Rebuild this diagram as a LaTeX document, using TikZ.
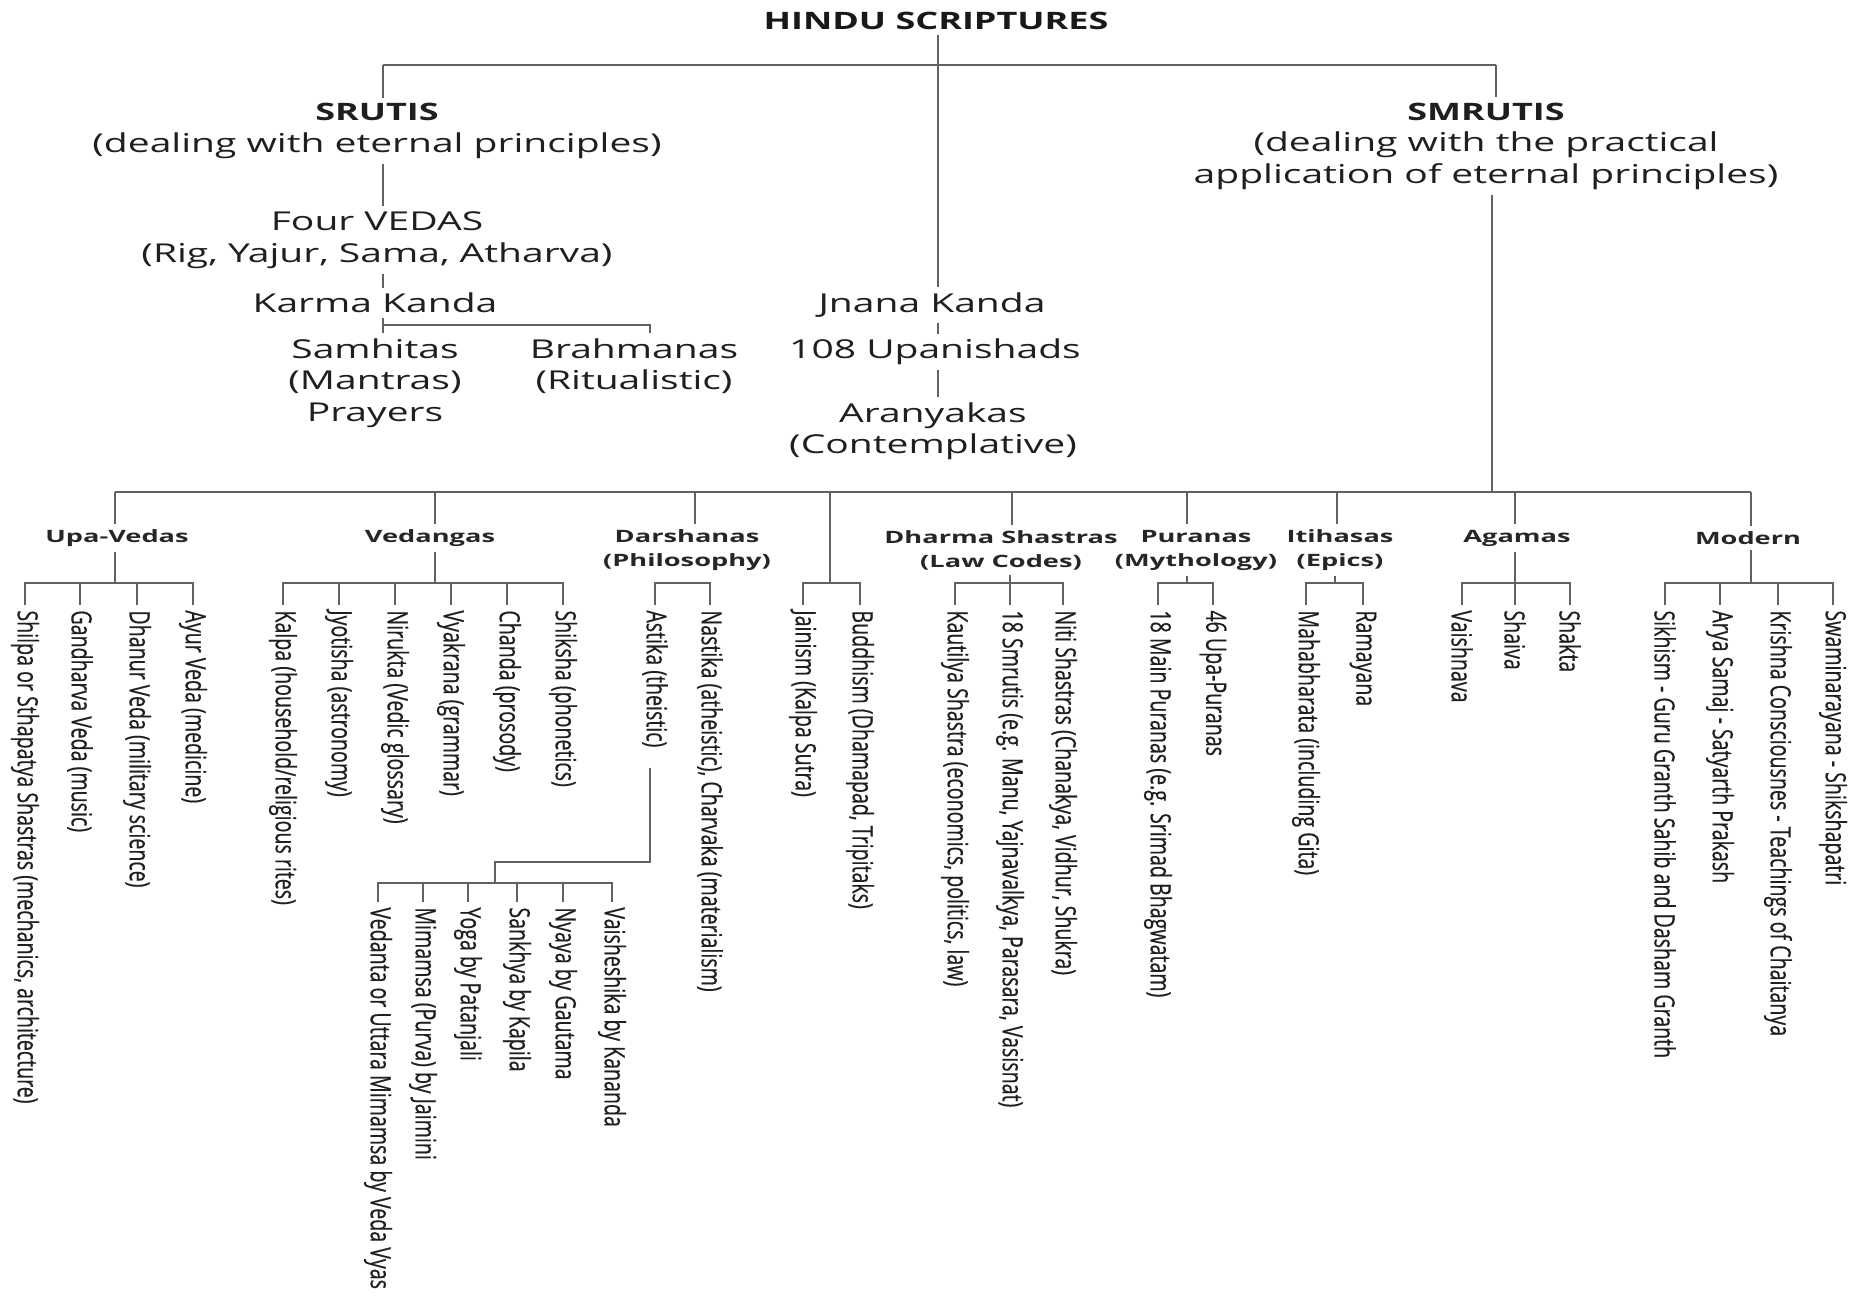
\documentclass[tikz,border=0pt]{standalone}
\usepackage{fontspec}
\setmainfont{Open Sans}
\newfontfamily\mainf[FakeStretch=1.5]{Open Sans}
\newfontfamily\levf[FakeStretch=1.6]{Open Sans}
\newfontfamily\leaff[FakeStretch=0.70,FakeBold=0.4]{Open Sans}
\begin{document}
\begin{tikzpicture}[x=0.5pt,y=-0.5pt,
  conn/.style={draw=black!62, line width=1pt},
  body/.style={font=\mainf\fontsize{13}{15.75}\selectfont, align=center, inner xsep=0pt, inner ysep=2.5pt, text=black!88},
  ttl/.style={font=\mainf\bfseries\fontsize{12}{15}\selectfont, inner xsep=0pt, inner ysep=2.5pt, text=black!90},
  lev/.style={font=\levf\bfseries\fontsize{8.5}{12}\selectfont, align=center, inner xsep=0pt, inner ysep=2.5pt, text=black!85},
  leaf/.style={font=\leaff\fontsize{14}{15}\selectfont, rotate=-90, anchor=west, inner xsep=2.5pt, inner ysep=0pt, text=black!88},
]
\path[use as bounding box, fill=white] (0,0) rectangle (1866,1310);

% ---------- top ----------
\node[ttl] (title) at (936,21) {HINDU SCRIPTURES};
\node[body] (srutis) at (377,131) {{\bfseries\fontsize{12}{15.75}\selectfont SRUTIS}\\(dealing with eternal principles)};
\node[body] (vedas) at (377,240) {Four VEDAS\\(Rig, Yajur, Sama, Atharva)};
\node[body] (karma) at (375,303) {Karma Kanda};
\node[body] (samh) at (375,383) {Samhitas\\(Mantras)\\Prayers};
\node[body] (brah) at (634,366) {Brahmanas\\(Ritualistic)};
\node[body] (jnana) at (932,305) {Jnana Kanda};
\node[body] (upan) at (935,352) {108 Upanishads};
\node[body] (aran) at (933,431) {Aranyakas\\(Contemplative)};
\node[body] (smrutis) at (1486,146) {{\bfseries\fontsize{12}{15.75}\selectfont SMRUTIS}\\(dealing with the practical\\application of eternal principles)};

\coordinate (tj) at (938,65);
\coordinate (sr) at (383,65);
\coordinate (sm) at (1496,65);
\draw[conn] (sr) -- (sm);
\draw[conn] (title.south -| tj) -- (jnana.north -| tj);
\draw[conn] (jnana.south -| tj) -- (upan.north -| tj);
\draw[conn] (upan.south -| tj) -- (aran.north -| tj);
\draw[conn] (sr) -- (sr |- srutis.north);
\draw[conn] (sm) -- (sm |- smrutis.north);
\draw[conn] (srutis.south -| sr) -- (vedas.north -| sr);
\draw[conn] (vedas.south -| sr) -- (karma.north -| sr);
\coordinate (kj) at (383,325);
\coordinate (kb) at (650,325);
\draw[conn] (karma.south -| kj) -- (kj) -- (kb) -- (kb |- brah.north);
\draw[conn] (kj) -- (kj |- samh.north);

% ---------- level 2 ----------
\coordinate (smd) at (1492,492);
\draw[conn] (smrutis.south -| smd) -- (smd);
\coordinate (L1) at (115,492);
\coordinate (L2) at (435,492);
\coordinate (L3) at (695,492);
\coordinate (L4) at (830,492);
\coordinate (L5) at (1012,492);
\coordinate (L6) at (1187,492);
\coordinate (L7) at (1337,492);
\coordinate (L8) at (1515,492);
\coordinate (L9) at (1751,492);
\draw[conn] (L1) -- (L9);

\node[lev] (upav) at (117,538) {Upa-Vedas};
\node[lev] (vedg) at (430,538) {Vedangas};
\node[lev] (dars) at (687,550) {Darshanas\\(Philosophy)};
\node[lev] (dhar) at (1001,550) {Dharma Shastras\\(Law Codes)};
\node[lev] (pura) at (1196,550) {Puranas\\(Mythology)};
\node[lev] (itih) at (1340,550) {Itihasas\\(Epics)};
\node[lev] (agam) at (1517,538) {Agamas};
\node[lev] (modn) at (1748,538) {Modern};

\draw[conn] (L1) -- (L1 |- upav.north);
\draw[conn] (L2) -- (L2 |- vedg.north);
\draw[conn] (L3) -- (L3 |- dars.north);
\draw[conn] (L5) -- (L5 |- dhar.north);
\draw[conn] (L6) -- (L6 |- pura.north);
\draw[conn] (L7) -- (L7 |- itih.north);
\draw[conn] (L8) -- (L8 |- agam.north);
\draw[conn] (L9) -- (L9 |- modn.north);

% ---------- Upa-Vedas ----------
\node[leaf] (uv1) at (25,605) {Shilpa or Sthapatya Shastras (mechanics, architecture)};
\node[leaf] (uv2) at (80,605) {Gandharva Veda (music)};
\node[leaf] (uv3) at (137,605) {Dhanur Veda (military science)};
\node[leaf] (uv4) at (193,605) {Ayur Veda (medicine)};
\coordinate (uvj) at (115,583);
\draw[conn] (upav.south -| uvj) -- (uvj);
\draw[conn] (uv1.west) -- (uv1.west |- uvj) -- (uv4.west |- uvj) -- (uv4.west);
\draw[conn] (uv2.west) -- (uv2.west |- uvj);
\draw[conn] (uv3.west) -- (uv3.west |- uvj);

% ---------- Vedangas ----------
\node[leaf] (vg1) at (283,605) {Kalpa (household/religious rites)};
\node[leaf] (vg2) at (339,605) {Jyotisha (astronomy)};
\node[leaf] (vg3) at (395,605) {Nirukta (Vedic glossary)};
\node[leaf] (vg4) at (451,605) {Vyakrana (grammar)};
\node[leaf] (vg5) at (507,605) {Chanda (prosody)};
\node[leaf] (vg6) at (563,605) {Shiksha (phonetics)};
\coordinate (vgj) at (435,583);
\draw[conn] (vedg.south -| vgj) -- (vgj);
\draw[conn] (vg1.west) -- (vg1.west |- vgj) -- (vg6.west |- vgj) -- (vg6.west);
\foreach \n in {vg2,vg3,vg4,vg5} \draw[conn] (\n.west) -- (\n.west |- vgj);

% ---------- Darshanas ----------
\node[leaf] (ast) at (655,605) {Astika (theistic)};
\node[leaf] (nas) at (710,605) {Nastika (atheistic), Charvaka (materialism)};
\draw[conn] (ast.west) -- ++(0,-22) -| (nas.west);
\node[leaf] (ds1) at (378,902) {Vedanta or Uttara Mimamsa by Veda Vyas};
\node[leaf] (ds2) at (423,902) {Mimamsa (Purva) by Jaimini};
\node[leaf] (ds3) at (468,902) {Yoga by Patanjali};
\node[leaf] (ds4) at (517,902) {Sankhya by Kapila};
\node[leaf] (ds5) at (563,902) {Nyaya by Gautama};
\node[leaf] (ds6) at (612,902) {Vaisheshika by Kananda};
\coordinate (dsj) at (495,883);
\draw[conn] (ast.east) ++(-5,15) -- (650,862) -| (dsj);
\draw[conn] (ds1.west) -- (ds1.west |- dsj) -- (ds6.west |- dsj) -- (ds6.west);
\foreach \n in {ds2,ds3,ds4,ds5} \draw[conn] (\n.west) -- (\n.west |- dsj);

% ---------- Jainism / Buddhism ----------
\node[leaf] (jn) at (803,605) {Jainism (Kalpa Sutra)};
\node[leaf] (bd) at (860,605) {Buddhism (Dhamapad, Tripitaks)};
\coordinate (jbj) at (830,583);
\draw[conn] (L4) -- (jbj);
\draw[conn] (jn.west) -- (jn.west |- jbj) -- (bd.west |- jbj) -- (bd.west);

% ---------- Dharma Shastras ----------
\node[leaf] (dh1) at (955,605) {Kautilya Shastra (economics, politics, law)};
\node[leaf] (dh2) at (1010,605) {18 Smrutis (e.g. Manu, Yajnavalkya, Parasara, Vasisnat)};
\node[leaf] (dh3) at (1063,605) {Niti Shastras (Chanakya, Vidhur, Shukra)};
\coordinate (dhj) at (1010,583);
\draw[conn] (dhar.south -| dhj) -- (dhj);
\draw[conn] (dh1.west) -- (dh1.west |- dhj) -- (dh3.west |- dhj) -- (dh3.west);
\draw[conn] (dh2.west) -- (dh2.west |- dhj);

% ---------- Puranas ----------
\node[leaf] (pu1) at (1158,605) {18 Main Puranas (e.g. Srimad Bhagwatam)};
\node[leaf] (pu2) at (1213,605) {46 Upa-Puranas};
\coordinate (puj) at (1187,583);
\draw[conn] (pura.south -| puj) -- (puj);
\draw[conn] (pu1.west) -- (pu1.west |- puj) -- (pu2.west |- puj) -- (pu2.west);

% ---------- Itihasas ----------
\node[leaf] (it1) at (1306,605) {Mahabharata (including Gita)};
\node[leaf] (it2) at (1363,605) {Ramayana};
\coordinate (itj) at (1335,583);
\draw[conn] (itih.south -| itj) -- (itj);
\draw[conn] (it1.west) -- (it1.west |- itj) -- (it2.west |- itj) -- (it2.west);

% ---------- Agamas ----------
\node[leaf] (ag1) at (1462,605) {Vaishnava};
\node[leaf] (ag2) at (1515,605) {Shaiva};
\node[leaf] (ag3) at (1570,605) {Shakta};
\coordinate (agj) at (1515,583);
\draw[conn] (agam.south -| agj) -- (agj);
\draw[conn] (ag1.west) -- (ag1.west |- agj) -- (ag3.west |- agj) -- (ag3.west);
\draw[conn] (ag2.west) -- (ag2.west |- agj);

% ---------- Modern ----------
\node[leaf] (mo1) at (1665,605) {Sikhism - Guru Granth Sahib and Dasham Granth};
\node[leaf] (mo2) at (1720,605) {Arya Samaj - Satyarth Prakash};
\node[leaf] (mo3) at (1778,605) {Krishna Consciousnes - Teachings of Chaitanya};
\node[leaf] (mo4) at (1833,605) {Swaminarayana - Shikshapatri};
\coordinate (moj) at (1751,583);
\draw[conn] (modn.south -| moj) -- (moj);
\draw[conn] (mo1.west) -- (mo1.west |- moj) -- (mo4.west |- moj) -- (mo4.west);
\draw[conn] (mo2.west) -- (mo2.west |- moj);
\draw[conn] (mo3.west) -- (mo3.west |- moj);
\end{tikzpicture}
\end{document}
